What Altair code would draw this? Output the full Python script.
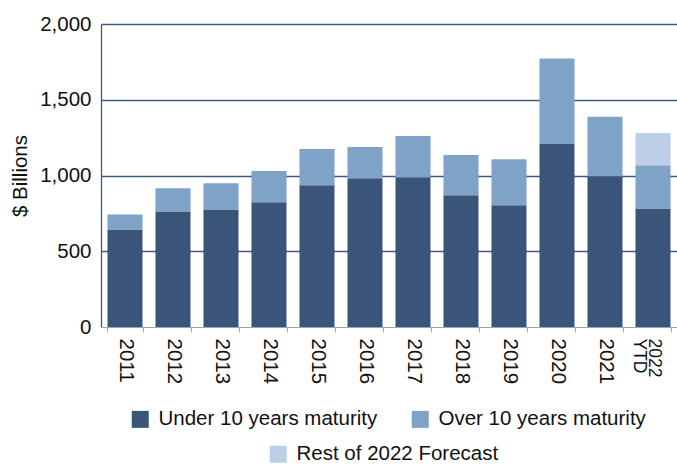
import altair as alt
import pandas as pd

years = ["2011", "2012", "2013", "2014", "2015", "2016", "2017", "2018",
         "2019", "2020", "2021", "2022 YTD"]
under_10 = [644, 763, 776, 823, 936, 982, 989, 869, 803, 1208, 995, 783]
over_10 = [99, 153, 173, 206, 239, 206, 272, 266, 305, 564, 392, 285]
forecast_year = "2022 YTD"
forecast_rest = 213

series_names = ["Under 10 years maturity", "Over 10 years maturity"]
forecast_name = "Rest of 2022 Forecast"

rows = []
for y, u, o in zip(years, under_10, over_10):
    rows.append({"year": y, "series": series_names[0], "value": u, "ord": 0})
    rows.append({"year": y, "series": series_names[1], "value": o, "ord": 1})
df = pd.DataFrame(rows)

idx = years.index(forecast_year)
base = under_10[idx] + over_10[idx]
df_fc = pd.DataFrame([{"year": forecast_year, "series": forecast_name,
                       "lo": base, "hi": base + forecast_rest}])

FONT = "Liberation Sans"
FS = 20.5
dark = "#3a5579"
mid = "#7fa3c6"
light = "#bccfe7"
grid_c = "#3d5a80"
axis_light = "#8fa8c8"

x_enc = alt.X(
    "year:N", sort=years, title=None,
    scale=alt.Scale(paddingInner=0.27, paddingOuter=0.135),
    axis=alt.Axis(
        labelAngle=90, labelAlign="left", labelBaseline="middle",
        labelExpr="datum.value == '2022 YTD' ? ['2022', 'YTD'] : datum.value",
        labelFontSize={"condition": {"test": "datum.value == '2022 YTD'", "value": 17.5}, "value": FS},
        labelLineHeight=15,
        tickBand="extent", tickSize=5, tickColor=axis_light, domainColor=axis_light,
        labelPadding=6, labelColor="#111", grid=False,
    ),
)

bars = alt.Chart(df).mark_bar().encode(
    x=x_enc,
    y=alt.Y(
        "value:Q", stack="zero", title="$ Billions",
        scale=alt.Scale(domain=[0, 2000], nice=False),
        axis=alt.Axis(
            values=[0, 500, 1000, 1500, 2000], format=",.0f", grid=True,
            gridColor={"condition": {"test": "datum.value === 0", "value": "transparent"}, "value": grid_c},
            gridWidth=1.3, ticks=False, domainColor=grid_c, domainWidth=1.3,
            labelPadding=10, labelColor="#111", titleColor="#111",
            titleFontWeight="normal", titleFontSize=FS,
            titleX=-81, titleY=151.5, titleAngle=-90,
            titleAlign="center", titleBaseline="middle",
        ),
    ),
    color=alt.Color(
        "series:N",
        scale=alt.Scale(domain=series_names, range=[dark, mid]),
        legend=alt.Legend(
            title=None, orient="none", legendX=29, legendY=385,
            direction="horizontal", columnPadding=32,
        ),
    ),
    order=alt.Order("ord:Q", sort="ascending"),
)

fc = alt.Chart(df_fc).mark_bar().encode(
    x=alt.X("year:N", sort=years),
    y=alt.Y("lo:Q"),
    y2=alt.Y2("hi:Q"),
    color=alt.Color(
        "series:N",
        scale=alt.Scale(domain=[forecast_name], range=[light]),
        legend=alt.Legend(
            title=None, orient="none", legendX=167, legendY=420,
            direction="horizontal",
        ),
    ),
)

chart = alt.layer(bars, fc).resolve_scale(color="independent").properties(
    width=576, height=303,
    autosize=alt.AutoSizeParams(type="none"),
    padding={"left": 101, "top": 24, "right": 0, "bottom": 139},
).configure(font=FONT).configure_view(stroke=None).configure_axis(
    labelFont=FONT, titleFont=FONT, labelFontSize=FS,
).configure_legend(
    labelFont=FONT, labelFontSize=FS, labelColor="#111", labelLimit=0,
    symbolType="square", symbolSize=289, symbolStrokeWidth=0,
    labelOffset=8, padding=0,
)

chart.save("out.html", embed_options={"renderer": "svg", "actions": False})
